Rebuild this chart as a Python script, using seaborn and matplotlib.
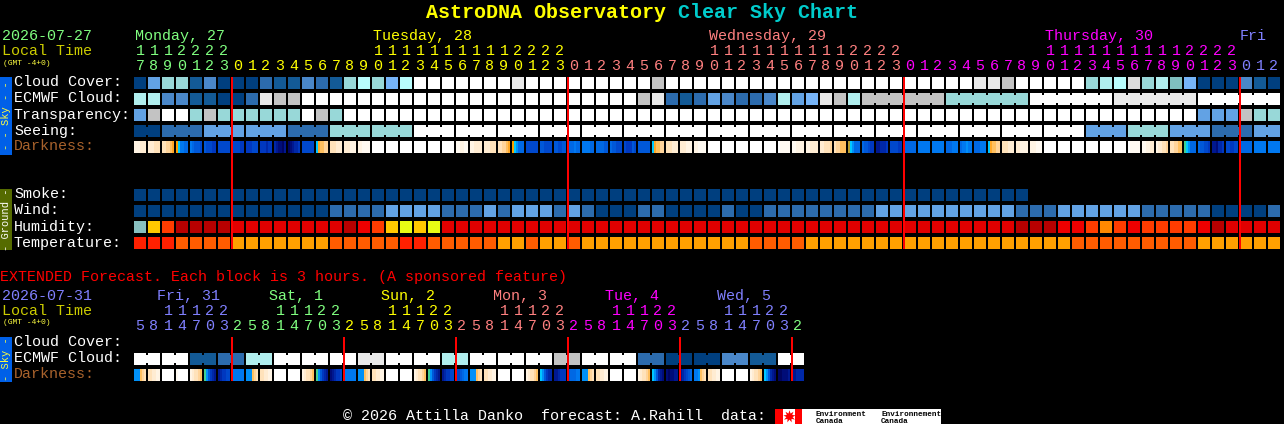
import numpy as np
import matplotlib
matplotlib.use("Agg")
import matplotlib.pyplot as plt
from matplotlib.colors import ListedColormap
from matplotlib.patches import Rectangle
import seaborn as sns

WIDTH, HEIGHT = 1284, 424
W = 12  # white / worst sky class

# sky palette shared by the cloud, transparency, seeing, smoke and wind rows
sky_colors = ['#003f7f', '#135a96', '#2c6bad', '#4a87c9', '#62a2e4', '#76b4f8', '#b8fdfd',
              '#b0eeee', '#98d8d8', '#7fbfbf', '#c3c3c3', '#e9e9e9', '#ffffff', '#dddddd']

cloud_cover = [0, 4, 8, 8, 1, 3, 0, 0, 0, 2, 1, 1, 3, 2, 1, 8, 6, 8, 5, 6] + [W] * 7 + [11] + [W] * 9 + [10] \
    + [W] * 22 + [11, 11, 10] + [W] * 5 + [8, 7, 6, 13, 8, 7, 9, 5, 0, 0, 0, 3, 1, 0]
ecmwf_cloud = [7, 7, 3, 3, 1, 1, 0, 0, 2, 11, 10, 10] + [W] * 24 \
    + [10, 11, 2, 1, 2, 4, 3, 2, 2, 3, 7, 4, 5, 11, 10, 7] + [10] * 6 + [8] * 6 + [W] * 6 + [11] * 6 + [W] * 6
transparency = [4, 10, W, W, 8, 10, 8, 8, 8, 8, 8, 8, W, 10, 8] + [W] * 61 + [4, 4, 4, 10, 8, 8]
seeing = [0] * 2 + [2] * 3 + [4] * 6 + [2] * 3 + [8] * 6 + [W] * 48 + [4] * 3 + [8] * 3 + [4] * 3 + [2] * 3 + [4] * 2
smoke = [0] * 64 + [np.nan] * 18
wind = [0] * 14 + [2, 2, 2, 2, 4, 4, 4, 4, 2, 2, 2, 4, 2, 4, 4, 4, 2, 4, 2, 0, 0, 0, 2, 2, 0, 0, 0, 0, 2, 0, 0] \
    + [2] * 8 + [4] * 10 + [2, 2, 2] + [4] * 6 + [2] * 5 + [0, 0, 0, 0, 2]

ecmwf_blocks = [1] * 52 + [6] * 5
seeing_blocks = [2] + [3] * 26 + [2]

humidity_colors = ['#88c0c0', '#ffc800', '#e8fc14', '#ff3c00', '#b80000', '#e00000', '#ee0000', '#ff8800']
humidity = [0, 1, 3, 4, 4, 4, 4] + [5] * 8 + [4, 6, 3, 1, 2, 1, 2] + [5] * 41 + [4, 4, 4, 6, 6, 3, 7, 3, 6, 3, 3, 3, 3, 6, 4, 5, 5, 5, 5]

temperature_colors = ['#ff2000', '#ff5c00', '#ffa000']
temperature = [0, 0, 0, 1, 1, 1, 1] + [2] * 7 + [1] * 5 + [0, 0] + [1] * 5 + [2, 2, 1, 2, 2, 1] + [2] * 12 + [1] * 4 \
    + [2] * 19 + [1] * 9 + [2] * 6

# darkness: six samples across each block, one letter per sample
darkness_colors = {
    'W': '#ffffff', 'a': '#fffaf2', 'b': '#fff4e4', 'c': '#ffecd2', 'd': '#ffe2ba', 'e': '#ffd49a',
    'f': '#ffc060', 'g': '#ffa828', 'h': '#f8a000', 'i': '#00c8ff', 'j': '#0090f8', 'k': '#0078f0',
    'l': '#0068e4', 'm': '#0058d8', 'n': '#0048cc', 'o': '#0038c0', 'p': '#0028a8', 'q': '#001890',
    'r': '#000c78', 's': '#000460', 't': '#b8a030', 'u': '#40d090',
}
WHITE = 'WWWWWW'
darkness = ['bbbccc', 'cccddd', 'ddeefg', 'hikkll', 'klmmmn', 'mnnnoo', 'nnnnnn', 'nnnnoo', 'ooonnn', 'ooopoo',
            'pqrrsq', 'srqppo', 'nnnnnn', 'igffee', 'dddccc', 'cccbbb', 'bbaaaa', WHITE, WHITE, WHITE,
            WHITE, WHITE, WHITE, 'aabbaa', 'bbcccc', 'cccddd', 'ddeefg', 'hijlll', 'nnnnnn', 'mmnnnn',
            'mmnnmm', 'lllkll', 'kkkkll', 'llllmm', 'lmmnnn', 'nooomn', 'mmmmmm', 'igffee', 'dddccc', 'cccbbb',
            'bbaaaa', WHITE, WHITE, WHITE, WHITE, WHITE, 'Waaaaa', 'aabbbb', 'bbcccc', 'ccddde',
            'deefff', 'tijlll', 'lmmnoo', 'qqpppo', 'nnnnoo', 'llllll', 'kkkkkk', 'kkkkkk', 'lllkkk', 'lkkjkk',
            'lllkkk', 'igffee', 'dddccc', 'ccbbbb', 'bbbaaa', WHITE, WHITE, WHITE, WHITE, WHITE,
            WHITE, 'Waaaaa', 'aabbcc', 'bccdde', 'ddeeff', 'uijlll', 'lmmnno', 'qqrppo', 'nnoonn', 'llllll',
            'kkkkkk', 'kkkkkk']

ext_ecmwf = [W, W, W, W, 1, 1, 2, 2, 7, 7, W, W, W, W, W, W, 11, 11, W, W, W, W, 7, 7,
             W, W, W, W, W, W, 10, 10, W, W, W, W, 2, 2, 0, 0, 0, 0, 3, 3, 1, 1, W, W]
ext_blocks = [2] * 24
ext_darkness = ['jjjfed', 'ddccbb', WHITE, 'aWWWWW', 'bcddef', 'ujmopq', 'qpoonn', 'kkkkkk',
                'jjjfed', 'ddccbb', WHITE, WHITE, 'bcddef', 'ujmopq', 'rqpoon', 'kkkkkk',
                'jjjfed', 'ddccbb', WHITE, WHITE, 'bcddef', 'ujmopq', 'qpoonn', 'nnmlkk',
                'jjjfed', 'ddccbb', WHITE, WHITE, 'bcddef', 'ijmopp', 'qqpooo', 'mlllkk',
                'jjjfed', 'ddccbb', WHITE, WHITE, 'bcddef', 'ijmpqr', 'rsrrqq', 'qponml',
                'kkjfed', 'ddccbb', WHITE, WHITE, 'bcddef', 'ijmpqr', 'ssrrrq', 'qqpppp']

hour_tens = '1112222' + ('          11111111112222' * 3) + '   '
hour_ones = '7890123' + ('012345678901234567890123' * 3) + '012'
ext_tens = '  11122' + ('   11122' * 5) + ' '
ext_ones = '5814703' + ('25814703' * 5) + '2'

GREEN, YELLOW, SALMON, MAGENTA, BLUE = '#80ff80', '#ffff00', '#ff8080', '#ff00ff', '#8080ff'
day_spans = [(7, GREEN), (24, YELLOW), (24, SALMON), (24, MAGENTA), (3, BLUE)]
ext_spans = [(7, BLUE), (8, GREEN), (8, YELLOW), (8, SALMON), (8, MAGENTA), (8, BLUE), (1, GREEN)]
day_labels = [('Monday, 27', 135, GREEN), ('Tuesday, 28', 373, YELLOW), ('Wednesday, 29', 709, SALMON),
              ('Thursday, 30', 1045, MAGENTA), ('Fri', 1240, BLUE)]
ext_day_labels = [('Fri, 31', 157, BLUE), ('Sat, 1', 269, GREEN), ('Sun, 2', 381, YELLOW),
                  ('Mon, 3', 493, SALMON), ('Tue, 4', 605, MAGENTA), ('Wed, 5', 717, BLUE)]

red_line_cols = [7, 31, 55, 79]
ext_red_line_cols = [7, 15, 23, 31, 39, 47]

GRID_X, PITCH, CELL = 134, 14, 12


def pixel_axes(fig, x, y, w, h):
    ax = fig.add_axes([x / WIDTH, 1 - (y + h) / HEIGHT, w / WIDTH, h / HEIGHT])
    ax.set_facecolor('black')
    return ax


def draw_row(fig, y, values, colors, blocks=None):
    # axes one pixel bigger than the cell all round, the 2px cell edges leave 12px showing
    ax = pixel_axes(fig, GRID_X - 1, y - 1, PITCH * len(values), PITCH)
    sns.heatmap(np.array([values], dtype=float), ax=ax, cmap=ListedColormap(colors),
                vmin=-0.5, vmax=len(colors) - 0.5, cbar=False, linewidths=1.44, linecolor='black',
                xticklabels=False, yticklabels=False)
    if blocks:
        # blocks of one forecast step are joined by a short bridge over the gap
        start = 0
        for size in blocks:
            for i in range(start, start + size - 1):
                ax.add_patch(Rectangle((i + 1 - 1 / 7, 3 / 14), 2 / 7, 8 / 14, lw=0,
                                       color=colors[int(values[i])], zorder=5))
            start += size


def draw_darkness(fig, y, cells):
    letters = list(darkness_colors)
    colors = list(darkness_colors.values())
    rows = []
    for cell in cells:
        rows += [letters.index(c) for c in cell] + [np.nan]
    ax = pixel_axes(fig, GRID_X, y, PITCH * len(cells), CELL)
    sns.heatmap(np.array([rows], dtype=float), ax=ax, cmap=ListedColormap(colors),
                vmin=-0.5, vmax=len(colors) - 0.5, cbar=False, linewidths=0,
                xticklabels=False, yticklabels=False)


def main():
    plt.rcParams['font.family'] = ['Liberation Mono', 'DejaVu Sans Mono']
    fig = plt.figure(figsize=(WIDTH / 100, HEIGHT / 100), dpi=100, facecolor='black')

    draw_row(fig, 77, cloud_cover, sky_colors)
    draw_row(fig, 93, ecmwf_cloud, sky_colors, ecmwf_blocks)
    draw_row(fig, 109, transparency, sky_colors)
    draw_row(fig, 125, seeing, sky_colors, seeing_blocks)
    draw_darkness(fig, 141, darkness)
    draw_row(fig, 189, smoke, sky_colors)
    draw_row(fig, 205, wind, sky_colors)
    draw_row(fig, 221, humidity, humidity_colors)
    draw_row(fig, 237, temperature, temperature_colors)
    draw_row(fig, 353, ext_ecmwf, sky_colors, ext_blocks)
    draw_darkness(fig, 369, ext_darkness)

    # overlay in pixel coordinates for the text, red lines and side tabs
    ov = fig.add_axes([0, 0, 1, 1], zorder=10)
    ov.set_xlim(0, WIDTH)
    ov.set_ylim(HEIGHT, 0)
    ov.axis('off')

    def put(x, y, s, color='white', size=10.8, **kw):
        ov.text(x, y, s, color=color, fontsize=size, va='baseline', **kw)

    def put_digits(y, digits, spans):
        colors = [c for n, c in spans for _ in range(n)]
        for i, d in enumerate(digits):
            if d != ' ':
                put(GRID_X + PITCH * i + CELL / 2, y, d, colors[i], ha='center')

    put(426, 18, 'AstroDNA Observatory', YELLOW, 14.4, fontweight='bold')
    put(678, 18, 'Clear Sky Chart', '#00cccc', 14.4, fontweight='bold')

    put(2, 40, '2026-07-27', GREEN)
    put(2, 55, 'Local Time', '#cccc00')
    put(3, 65, '(GMT -4+0)', '#ffff40', 5.8)
    for s, x, c in day_labels:
        put(x, 40, s, c)
    put_digits(55, hour_tens, day_spans)
    put_digits(70, hour_ones, day_spans)

    row_labels = ['Cloud Cover:', 'ECMWF Cloud:', 'Transparency:', 'Seeing:']
    for i, s in enumerate(row_labels):
        put(14, 86.5 + 16 * i, s)
    put(14, 150.5, 'Darkness:', '#a8622c')
    for i, s in enumerate(['Smoke:', 'Wind:', 'Humidity:', 'Temperature:']):
        put(14, 198.5 + 16 * i, s)

    put(0, 281, 'EXTENDED Forecast. Each block is 3 hours. (A sponsored feature)', '#ff0000')
    put(2, 300, '2026-07-31', BLUE)
    put(2, 315, 'Local Time', '#cccc00')
    put(3, 324, '(GMT -4+0)', '#ffff40', 5.8)
    for s, x, c in ext_day_labels:
        put(x, 300, s, c)
    put_digits(315, ext_tens, ext_spans)
    put_digits(330, ext_ones, ext_spans)
    put(14, 346.5, 'Cloud Cover:')
    put(14, 362.5, 'ECMWF Cloud:')
    put(14, 378.5, 'Darkness:', '#a8622c')

    # side tabs
    for y0, y1, color, text, text_color in [(77, 155, '#0060e8', '- - Sky - -', '#ffff40'),
                                            (189, 250, '#556b00', '- Ground -', 'white'),
                                            (337, 382, '#0060e8', '- Sky -', '#ffff40')]:
        ov.add_patch(Rectangle((0, y0), 12, y1 - y0, color=color, lw=0))
        ov.text(6, (y0 + y1) / 2, text, color=text_color, fontsize=7.5, rotation=90,
                ha='center', va='center')

    ov.vlines([GRID_X + PITCH * c for c in red_line_cols], 77, 249, color='#ff0000', lw=1.44)
    ov.vlines([GRID_X + PITCH * c for c in ext_red_line_cols], 337, 381, color='#ff0000', lw=1.44)

    # footer with the Environment Canada logo
    put(343, 420, '\u00a9 2026 Attilla Danko  forecast: A.Rahill  data:')
    ov.add_patch(Rectangle((775, 409), 166, 15, color='white', lw=0))
    ov.add_patch(Rectangle((775, 409), 8, 15, color='#ff0000', lw=0))
    ov.add_patch(Rectangle((795, 409), 7, 15, color='#ff0000', lw=0))
    ov.plot([789], [416], marker=(9, 1, 0), ms=9, color='#ff0000', mew=0)
    put(816, 416, 'Environment', 'black', 5.5, fontweight='bold')
    put(816, 423, 'Canada', 'black', 5.5, fontweight='bold')
    put(881, 416, 'Environnement', 'black', 5.5, fontweight='bold')
    put(881, 423, 'Canada', 'black', 5.5, fontweight='bold')

    fig.savefig('out.png', dpi=100, facecolor='black')
    print('saved out.png')


if __name__ == "__main__":
    main()
